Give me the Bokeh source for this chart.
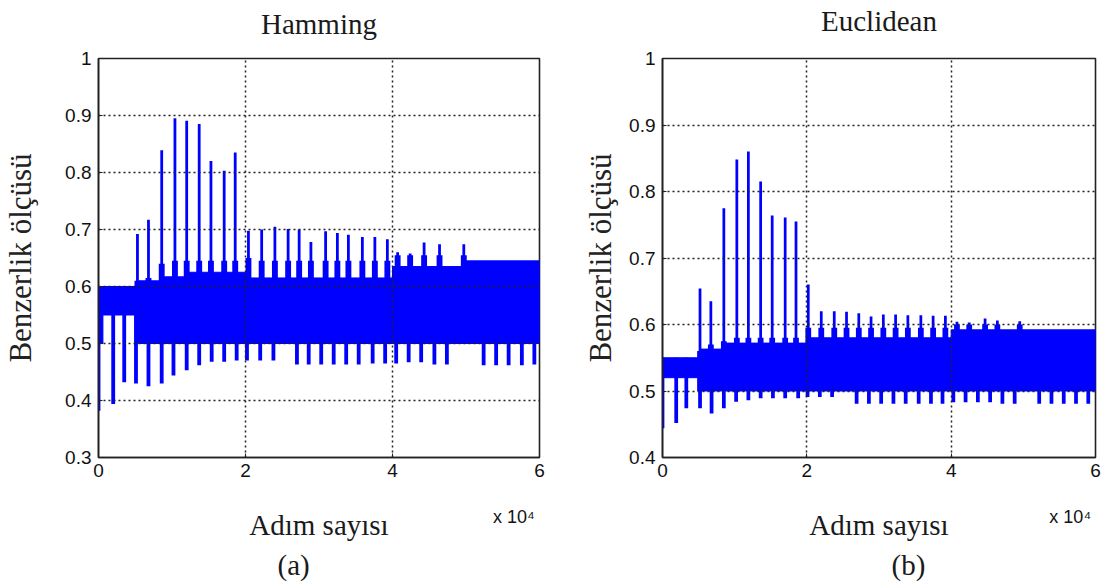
from bokeh.plotting import figure
from bokeh.layouts import row
from bokeh.models import (Range1d, FixedTicker, CustomJSTickFormatter, LinearAxis, Title)
from bokeh.embed import file_html
from bokeh.resources import INLINE

# ---------------- data (x in units of 10^4 steps) ----------------
titles = ["Hamming", "Euclidean"]
panel_tags = ["(a)", "(b)"]
x_label = "Adım sayısı"
y_label = "Benzerlik ölçüsü"
x_multiplier = "x 10\u2074"
x_ticks = [0, 2, 4, 6]
ham_y_ticks = [0.3, 0.4, 0.5, 0.6, 0.7, 0.8, 0.9, 1.0]
euc_y_ticks = [0.4, 0.5, 0.6, 0.7, 0.8, 0.9, 1.0]

# Hamming: dense band segments
ham_band_x0 = [0.0, 0.06, 0.55, 0.85, 1.2, 2.0, 4.0, 5.0]
ham_band_x1 = [0.06, 0.55, 0.85, 1.2, 2.0, 4.0, 5.0, 6.0]
ham_band_lo = [0.50, 0.55, 0.50, 0.50, 0.50, 0.50, 0.50, 0.50]
ham_band_hi = [0.60, 0.60, 0.61, 0.617, 0.625, 0.615, 0.635, 0.645]
# Hamming: upper spikes
ham_up_x = [0.53, 0.68, 0.86, 1.04, 1.20, 1.37, 1.53, 1.71, 1.86, 2.04, 2.22, 2.40, 2.58,
            2.73, 2.89, 3.09, 3.25, 3.40, 3.59, 3.76, 3.93, 4.07, 4.24, 4.43, 4.64, 4.97]
ham_up_y = [0.692, 0.717, 0.839, 0.895, 0.891, 0.885, 0.820, 0.803, 0.835, 0.698, 0.700,
            0.705, 0.701, 0.700, 0.678, 0.697, 0.694, 0.691, 0.687, 0.687, 0.683, 0.660,
            0.658, 0.677, 0.674, 0.674]
ham_sh_y = [0.61, 0.615, 0.64, 0.645, 0.645, 0.645, 0.645, 0.645, 0.645, 0.65, 0.645,
            0.645, 0.645, 0.645, 0.645, 0.645, 0.645, 0.645, 0.645, 0.645, 0.645, 0.655,
            0.655, 0.655, 0.655, 0.655]
# Hamming: lower spikes
ham_lo_x = [0.0, 0.2, 0.35, 0.51, 0.68, 0.86, 1.02, 1.20, 1.37, 1.54, 1.71, 1.88, 2.02,
            2.20, 2.38, 2.70, 2.86, 3.03, 3.20, 3.37, 3.54, 3.73, 3.90, 4.05, 4.22, 4.39,
            4.57, 4.74, 5.24, 5.41, 5.58, 5.76, 5.93]
ham_lo_y = [0.382, 0.394, 0.432, 0.430, 0.425, 0.430, 0.444, 0.453, 0.462, 0.468, 0.468,
            0.470, 0.470, 0.470, 0.470, 0.463, 0.463, 0.463, 0.463, 0.463, 0.463, 0.465,
            0.465, 0.465, 0.467, 0.467, 0.463, 0.463, 0.462, 0.462, 0.462, 0.462, 0.463]

# Euclidean: dense band segments
euc_band_x0 = [0.0, 0.52, 0.85, 2.0, 4.0]
euc_band_x1 = [0.52, 0.85, 2.0, 4.0, 6.0]
euc_band_lo = [0.52, 0.50, 0.50, 0.50, 0.50]
euc_band_hi = [0.55, 0.563, 0.572, 0.58, 0.592]
# Euclidean: upper spikes
euc_up_x = [0.52, 0.67, 0.85, 1.03, 1.19, 1.36, 1.52, 1.70, 1.85, 2.02, 2.20, 2.38, 2.55,
            2.72, 2.89, 3.06, 3.23, 3.40, 3.58, 3.75, 3.92, 4.08, 4.25, 4.47, 4.64, 4.95]
euc_up_y = [0.654, 0.635, 0.775, 0.848, 0.860, 0.815, 0.764, 0.761, 0.755, 0.660, 0.620,
            0.620, 0.619, 0.617, 0.612, 0.615, 0.615, 0.614, 0.614, 0.613, 0.613, 0.604,
            0.603, 0.609, 0.606, 0.605]
euc_sh_y = [0.56, 0.57, 0.575, 0.58, 0.58, 0.58, 0.58, 0.58, 0.58, 0.595, 0.595, 0.595,
            0.595, 0.595, 0.595, 0.595, 0.595, 0.595, 0.595, 0.595, 0.595, 0.60, 0.60,
            0.60, 0.60, 0.60]
# Euclidean: lower spikes
euc_lo_x = [0.0, 0.19, 0.33, 0.52, 0.68, 0.85, 1.02, 1.19, 1.36, 1.53, 1.70, 1.88, 2.01,
            2.18, 2.35, 2.69, 2.86, 3.03, 3.20, 3.37, 3.55, 3.72, 3.88, 4.03, 4.20, 4.37,
            4.54, 4.71, 4.88, 5.22, 5.39, 5.56, 5.73, 5.90]
euc_lo_y = [0.444, 0.452, 0.474, 0.474, 0.466, 0.474, 0.484, 0.486, 0.489, 0.489, 0.489,
            0.489, 0.491, 0.491, 0.491, 0.481, 0.481, 0.481, 0.481, 0.481, 0.481, 0.481,
            0.481, 0.483, 0.483, 0.483, 0.483, 0.481, 0.481, 0.481, 0.481, 0.481, 0.481,
            0.481]

SCALE = 1e4
BLUE = "#0000FF"
SERIF = "Liberation Serif"
SANS = "Liberation Sans"
INK = "#1a1a1a"


def steps(v):
    return [a * SCALE for a in v]


def panel(width, border, yticks, band, up, lo, tag, title, title_standoff, tag_offset,
          ylab_standoff):
    lb, rb, tb, bb = border
    ymin = yticks[0]
    p = figure(width=width, height=586, output_backend="svg", toolbar_location=None,
               x_range=Range1d(0, 6 * SCALE), y_range=Range1d(ymin, 1.0),
               min_border_left=lb, min_border_right=rb, min_border_top=tb,
               min_border_bottom=bb)
    p.background_fill_color = "white"
    p.border_fill_color = "white"
    p.outline_line_color = "#222222"
    p.outline_line_width = 1.6
    main_x = p.below[0]
    main_y = p.left[0]

    # panel title carried by a label-only axis above the frame
    top_ax = LinearAxis(ticker=FixedTicker(ticks=[]))
    top_ax.axis_line_color = None
    top_ax.major_tick_line_color = None
    top_ax.minor_tick_line_color = None
    top_ax.major_tick_in = 0
    top_ax.major_tick_out = 0
    top_ax.major_label_standoff = 0
    top_ax.axis_label = title
    top_ax.axis_label_text_font = SERIF
    top_ax.axis_label_text_font_size = "29px"
    top_ax.axis_label_text_font_style = "normal"
    top_ax.axis_label_text_color = INK
    top_ax.axis_label_standoff = title_standoff
    p.add_layout(top_ax, "above")

    bx0, bx1, blo, bhi = band
    p.quad(left=steps(bx0), right=steps(bx1), bottom=blo, top=bhi,
           fill_color=BLUE, line_color=BLUE, line_width=1)
    ux, uy, sy = up
    p.vbar(x=steps(ux), width=800, bottom=0.5, top=sy, fill_color=BLUE, line_color=None)
    p.vbar(x=steps(ux), width=380, bottom=0.5, top=uy, fill_color=BLUE, line_color=None)
    lx, ly = lo
    p.vbar(x=steps(lx), width=520, bottom=ly, top=0.55, fill_color=BLUE, line_color=None)

    main_x.ticker = FixedTicker(ticks=steps(x_ticks))
    main_x.formatter = CustomJSTickFormatter(code="return (tick/1e4).toFixed(0);")
    main_y.ticker = FixedTicker(ticks=yticks)
    main_y.formatter = CustomJSTickFormatter(
        code="return Math.abs(tick-1)<1e-9 ? '1' : tick.toFixed(1);")
    for ax in (main_x, main_y):
        ax.axis_line_color = "#222222"
        ax.axis_line_width = 1.6
        ax.major_tick_in = 4
        ax.major_tick_out = 0
        ax.minor_tick_line_color = None
        ax.major_tick_line_color = "#222222"
        ax.major_label_text_font = SANS
        ax.major_label_text_font_size = "19px"
        ax.major_label_text_color = "#111111"
    main_x.major_label_standoff = 6
    main_y.major_label_standoff = 7
    main_y.axis_label = y_label
    main_y.axis_label_text_font = SERIF
    main_y.axis_label_text_font_size = "31px"
    main_y.axis_label_text_font_style = "normal"
    main_y.axis_label_text_color = "#222222"
    main_y.axis_label_standoff = ylab_standoff

    # second (label-only) bottom axis carrying the x-multiplier and the x label
    ax2 = LinearAxis(ticker=FixedTicker(ticks=[5.65 * SCALE]),
                     formatter=CustomJSTickFormatter(code="return '%s';" % x_multiplier))
    ax2.axis_line_color = None
    ax2.major_tick_line_color = None
    ax2.minor_tick_line_color = None
    ax2.major_tick_in = 0
    ax2.major_tick_out = 0
    ax2.major_label_text_font = SANS
    ax2.major_label_text_font_size = "18px"
    ax2.major_label_text_color = "#111111"
    ax2.major_label_standoff = 27
    ax2.axis_label = x_label
    ax2.axis_label_text_font = SERIF
    ax2.axis_label_text_font_size = "29px"
    ax2.axis_label_text_font_style = "normal"
    ax2.axis_label_text_color = INK
    ax2.axis_label_standoff = -21
    p.add_layout(ax2, "below")

    p.add_layout(Title(text=tag, align="left", offset=tag_offset, text_font=SERIF,
                       text_font_size="29px", text_font_style="normal", text_color=INK,
                       standoff=6), "below")

    for g in (p.xgrid[0], p.ygrid[0]):
        g.grid_line_color = "#222222"
        g.grid_line_dash = "2 3"
        g.grid_line_width = 1.5
        g.level = "overlay"
    return p


p1 = panel(560, (98, 21, 58, 125), ham_y_ticks,
           (ham_band_x0, ham_band_x1, ham_band_lo, ham_band_hi),
           (ham_up_x, ham_up_y, ham_sh_y), (ham_lo_x, ham_lo_y),
           panel_tags[0], titles[0], 19, 179, 24)
p2 = panel(550, (102, 15, 55, 129), euc_y_ticks,
           (euc_band_x0, euc_band_x1, euc_band_lo, euc_band_hi),
           (euc_up_x, euc_up_y, euc_sh_y), (euc_lo_x, euc_lo_y),
           panel_tags[1], titles[1], 22, 229, 8)

layout = row(p1, p2, spacing=0)
open("out.html", "w").write(file_html(layout, INLINE))
